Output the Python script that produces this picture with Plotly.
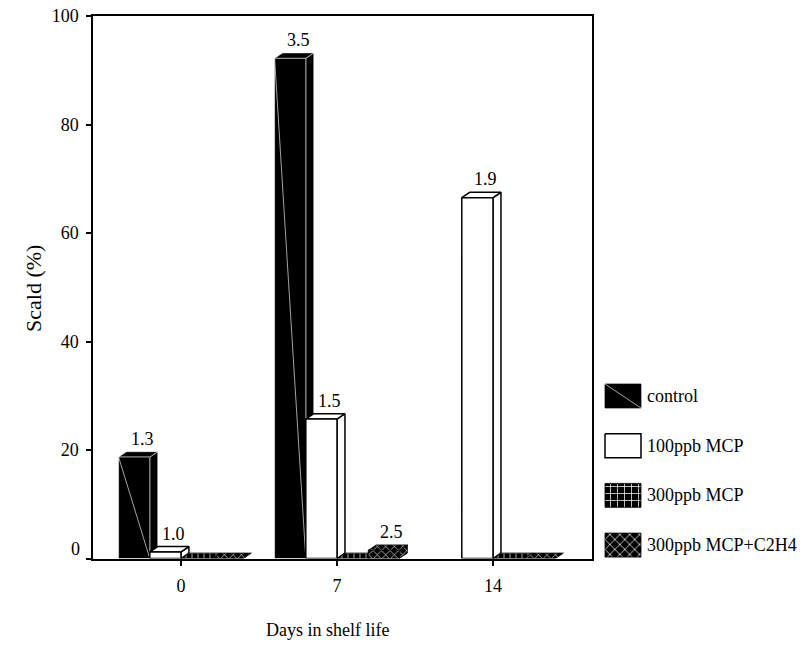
import plotly.graph_objects as go

# ---- data -------------------------------------------------------------
days = ["0", "7", "14"]
series_names = ["control", "100ppb MCP", "300ppb MCP", "300ppb MCP+C2H4"]

control = [18.7, 92.2, None]
mcp100 = [1.2, 25.7, 66.5]
mcp300 = [0.0, 0.0, 0.0]
mcp300_c2h4 = [0.0, 1.5, 0.0]

control_labels = ["1.3", "3.5", ""]
mcp100_labels = ["1.0", "1.5", "1.9"]
mcp300_labels = ["", "", ""]
mcp300_c2h4_labels = ["", "2.5", ""]

y_ticks = [0, 20, 40, 60, 80, 100]

# ---- geometry / styling ----------------------------------------------
W, H = 806, 652
PX_L, PX_R, PX_T, PX_B = 93, 592, 16, 558.5
X_MIN, X_MAX = -0.5641, -0.5641 + (PX_R - PX_L) / 156.0
BAR_W = 0.2            # width of one bar in category units
DEPTH_X = 0.051        # 3-D depth offset (category units)
DEPTH_Y = 1.0          # 3-D depth offset (percent units)
FONT = "Liberation Serif"

series_values = [control, mcp100, mcp300, mcp300_c2h4]
series_labels = [control_labels, mcp100_labels, mcp300_labels, mcp300_c2h4_labels]
styles = [
    dict(fill="black", edge="rgba(255,255,255,0.75)", edge_w=0.7, pattern=None, diag=True),
    dict(fill="white", edge="black", edge_w=1.5, pattern=None, diag=False),
    dict(fill="black", edge="black", edge_w=0.8,
         pattern=dict(shape="+", bgcolor="black", fgcolor="white", size=6, solidity=0.2,
                      fillmode="replace"), diag=False),
    dict(fill="black", edge="black", edge_w=0.8,
         pattern=dict(shape="x", bgcolor="black", fgcolor="white", size=6, solidity=0.2,
                      fillmode="replace"), diag=False),
]

fig = go.Figure()


def face(xs, ys, st, xaxis="x", yaxis="y"):
    kw = dict(
        x=list(xs) + [xs[0]], y=list(ys) + [ys[0]],
        mode="lines", fill="toself", fillcolor=st["fill"],
        line=dict(color=st["edge"], width=st["edge_w"]),
        hoverinfo="skip", showlegend=False, xaxis=xaxis, yaxis=yaxis,
    )
    if st["pattern"] is not None:
        kw["fillpattern"] = st["pattern"]
    fig.add_trace(go.Scatter(**kw))


annotations = []

# ---- 3-D bars ---------------------------------------------------------
for ci, _ in enumerate(days):
    for si, (vals, labs, st) in enumerate(zip(series_values, series_labels, styles)):
        v = vals[ci]
        if v is None:
            continue
        xl = ci + (si - 2) * BAR_W
        xr = xl + BAR_W
        if v > 0:
            # right side face
            face([xr, xr + DEPTH_X, xr + DEPTH_X, xr],
                 [0, DEPTH_Y, v + DEPTH_Y, v], st)
        # top face
        face([xl, xr, xr + DEPTH_X, xl + DEPTH_X],
             [v, v, v + DEPTH_Y, v + DEPTH_Y], st)
        if v > 0:
            # front face
            face([xl, xr, xr, xl], [0, 0, v, v], st)
            if st["diag"]:
                fig.add_trace(go.Scatter(
                    x=[xl, xr], y=[v, 0], mode="lines",
                    line=dict(color="rgba(255,255,255,0.8)", width=0.8),
                    hoverinfo="skip", showlegend=False))
        if labs[ci]:
            annotations.append(dict(
                x=xl + BAR_W / 2 + DEPTH_X, y=v + DEPTH_Y, xref="x", yref="y",
                text=labs[ci], showarrow=False, yanchor="bottom", yshift=1,
                font=dict(family=FONT, size=18, color="black")))

# ---- legend drawn on its own pixel-scaled axes ------------------------
LEG_X0, LEG_X1 = 605, 641
LEG_TOP0, LEG_STEP, LEG_H = 384, 49.7, 24
for i, (name, st) in enumerate(zip(series_names, styles)):
    top = LEG_TOP0 + i * LEG_STEP
    bot = top + LEG_H
    sw = dict(st)
    if st["pattern"] is not None:
        sw["pattern"] = dict(st["pattern"], size=7)
    if name == "100ppb MCP":
        sw["edge_w"] = 1.5
    else:
        sw["edge"] = "black"
    face([LEG_X0, LEG_X1, LEG_X1, LEG_X0], [top, top, bot, bot], sw, "x2", "y2")
    if st["diag"]:
        fig.add_trace(go.Scatter(
            x=[LEG_X0, LEG_X1], y=[top, bot], mode="lines",
            line=dict(color="rgba(255,255,255,0.8)", width=0.8),
            hoverinfo="skip", showlegend=False, xaxis="x2", yaxis="y2"))
    annotations.append(dict(
        x=LEG_X1 + 4, y=(top + bot) / 2, xref="x2", yref="y2", text=name,
        showarrow=False, xanchor="left", yanchor="middle",
        font=dict(family=FONT, size=18, color="black")))

# ---- axis titles and the lifted zero label -----------------------------
annotations += [
    dict(x=33 / W, y=1 - 289 / H, xref="paper", yref="paper", text="Scald (%)",
         textangle=-90, showarrow=False, xanchor="center", yanchor="middle",
         font=dict(family=FONT, size=22, color="black")),
    dict(x=327 / W, y=1 - 630 / H, xref="paper", yref="paper", text="Days in shelf life",
         showarrow=False, xanchor="center", yanchor="middle",
         font=dict(family=FONT, size=18, color="black")),
    dict(x=X_MIN, y=0, xref="x", yref="y", text=str(y_ticks[0]), showarrow=False,
         xanchor="right", yanchor="middle", xshift=-11, yshift=10,
         font=dict(family=FONT, size=18, color="black")),
]

fig.update_layout(
    width=W, height=H,
    margin=dict(l=0, r=0, t=0, b=0, pad=0),
    paper_bgcolor="white", plot_bgcolor="rgba(0,0,0,0)",
    showlegend=False,
    annotations=annotations,
    xaxis=dict(
        domain=[PX_L / W, PX_R / W], range=[X_MIN, X_MAX],
        tickmode="array", tickvals=list(range(len(days))), ticktext=days,
        ticks="outside", ticklen=6, tickwidth=2, tickcolor="black",
        showline=True, linecolor="black", linewidth=1.5, mirror=True,
        showgrid=False, zeroline=False, ticklabelstandoff=4, automargin=False,
        tickfont=dict(family=FONT, size=18, color="black"),
    ),
    yaxis=dict(
        domain=[1 - PX_B / H, 1 - PX_T / H], range=[0, 100],
        tickmode="array", tickvals=y_ticks,
        ticktext=[""] + [str(t) for t in y_ticks[1:]],
        ticks="outside", ticklen=5, tickwidth=2, tickcolor="black",
        showline=True, linecolor="black", linewidth=1.5, mirror=True,
        showgrid=False, zeroline=False, ticklabelstandoff=4, automargin=False,
        tickfont=dict(family=FONT, size=18, color="black"),
    ),
    xaxis2=dict(domain=[600 / W, 1], range=[600, W], visible=False,
                anchor="y2", fixedrange=True, automargin=False),
    yaxis2=dict(domain=[0, 1], range=[H, 0], visible=False,
                anchor="x2", fixedrange=True, automargin=False),
)

fig.write_html("out.html")
